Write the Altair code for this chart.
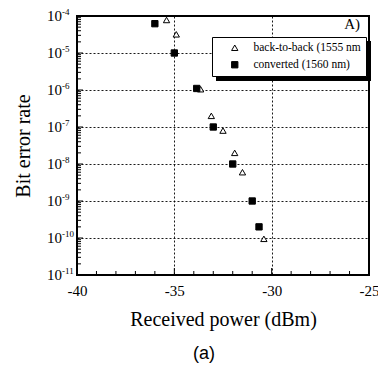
import altair as alt
import pandas as pd

# ---- data ----
series_names = ["back-to-back (1555 nm", "converted (1560 nm)"]
b2b_power = [-35.4, -34.9, -33.65, -33.1, -32.5, -31.9, -31.5, -30.4]
b2b_ber = [7.8e-5, 3.2e-5, 1.05e-6, 2.0e-7, 8.0e-8, 2.0e-8, 6.0e-9, 9.5e-11]
conv_power = [-36.0, -35.0, -33.85, -33.0, -32.0, -31.0, -30.65]
conv_ber = [6.2e-5, 1.0e-5, 1.1e-6, 1.0e-7, 1.0e-8, 1.0e-9, 2.0e-10]

x_tick_values = [-40, -35, -30, -25]
x_minor_ticks = [-39, -38, -37, -36, -34, -33, -32, -31, -29, -28, -27, -26]
y_exponents = [-11, -10, -9, -8, -7, -6, -5, -4]
y_exponent_labels = ["-11", "-10", "-9", "-8", "-7", "-6", "-5", "-4"]
x_range = [-40, -25]
y_range = [1e-11, 1e-4]

SERIF = "Liberation Serif"
W = 292
H = 259

df = pd.DataFrame(
    {
        "power": b2b_power + conv_power,
        "ber": b2b_ber + conv_ber,
        "series": [series_names[0]] * len(b2b_power) + [series_names[1]] * len(conv_power),
    }
)
decades = [10.0 ** e for e in y_exponents]
df_dec = pd.DataFrame({"v": decades, "exp": y_exponent_labels})
df_yminor = pd.DataFrame({"v": [k * 10.0 ** e for e in y_exponents[:-1] for k in range(2, 10)]})
df_xminor = pd.DataFrame({"t": x_minor_ticks})
df_xmajor = pd.DataFrame({"t": [-35, -30]})
df_one = pd.DataFrame({"k": [0]})
df_box = pd.DataFrame({"x0": [x_range[0]], "x1": [x_range[1]], "y0": [y_range[0]], "y1": [y_range[1]]})

xscale = alt.Scale(domain=x_range, nice=False, zero=False)
yscale = alt.Scale(type="log", domain=y_range, nice=False)

grid_style = dict(grid=True, gridColor="black", gridDash=[2, 2], gridWidth=1, gridOpacity=0.9)

x_axis = alt.Axis(
    values=x_tick_values,
    ticks=False,
    domain=False,
    labelFlush=False,
    labelExpr="'' + datum.value",
    labelFont=SERIF,
    labelFontSize=15,
    labelColor="black",
    labelPadding=8,
    title="Received power (dBm)",
    titleFont=SERIF,
    titleFontSize=20,
    titleFontWeight="normal",
    titleColor="black",
    titlePadding=11,
    **grid_style,
)
y_axis = alt.Axis(
    values=decades,
    ticks=False,
    domain=False,
    labels=False,
    title="Bit error rate",
    titleFont=SERIF,
    titleFontSize=20,
    titleFontWeight="normal",
    titleColor="black",
    titlePadding=44,
    **grid_style,
)

legend = alt.Legend(
    orient="none",
    legendX=135,
    legendY=21,
    title=None,
    fillColor="white",
    strokeColor="black",
    padding=5,
    symbolOffset=12,
    labelOffset=13,
    labelFont=SERIF,
    labelFontSize=11.5,
    labelColor="black",
    rowPadding=4,
    symbolStrokeWidth=1,
    symbolSize=40,
    symbolOpacity=1,
)

points = alt.Chart(df).mark_point(filled=True, strokeWidth=1, size=40, opacity=1).encode(
    x=alt.X("power:Q", scale=xscale, axis=x_axis),
    y=alt.Y("ber:Q", scale=yscale, axis=y_axis),
    shape=alt.Shape(
        "series:N", scale=alt.Scale(domain=series_names, range=["triangle-up", "square"]), legend=legend
    ),
    fill=alt.Fill("series:N", scale=alt.Scale(domain=series_names, range=["white", "black"]), legend=legend),
    stroke=alt.Stroke("series:N", scale=alt.Scale(domain=series_names, range=["black", "black"]), legend=legend),
)

# plot frame as an unfilled rectangle spanning the whole data range
frame = alt.Chart(df_box).mark_rect(
    fill="white", fillOpacity=0, stroke="black", strokeWidth=2, strokeOpacity=1
).encode(
    x=alt.X("x0:Q", scale=xscale, axis=x_axis),
    x2="x1:Q",
    y=alt.Y("y0:Q", scale=yscale, axis=y_axis),
    y2="y1:Q",
)

# drop shadow of the legend box (right and bottom)
shadow = alt.Chart(df_one).mark_rect(fill="black", opacity=1).encode(
    x=alt.value(139), x2=alt.value(294), y=alt.value(25), y2=alt.value(65)
)

xminor = alt.Chart(df_xminor).mark_rule(color="black", strokeWidth=1).encode(
    x=alt.X("t:Q", scale=xscale, axis=x_axis), y=alt.value(H), y2=alt.value(H - 4)
)
xmajor = alt.Chart(df_xmajor).mark_rule(color="black", strokeWidth=1).encode(
    x=alt.X("t:Q", scale=xscale, axis=x_axis), y=alt.value(H), y2=alt.value(H - 7)
)
yminor = alt.Chart(df_yminor).mark_rule(color="black", strokeWidth=1).encode(
    y=alt.Y("v:Q", scale=yscale, axis=y_axis), x=alt.value(0), x2=alt.value(4)
)
ymajor = alt.Chart(df_dec).mark_rule(color="black", strokeWidth=1).encode(
    y=alt.Y("v:Q", scale=yscale, axis=y_axis), x=alt.value(0), x2=alt.value(6)
)
ylab_base = alt.Chart(df_dec).mark_text(
    font=SERIF, fontSize=15, align="left", baseline="middle", color="black"
).encode(y=alt.Y("v:Q", scale=yscale, axis=y_axis), x=alt.value(-30), text=alt.value("10"))
ylab_exp = alt.Chart(df_dec).mark_text(
    font=SERIF, fontSize=9, align="left", baseline="middle", color="black", dy=-4
).encode(y=alt.Y("v:Q", scale=yscale, axis=y_axis), x=alt.value(-15), text="exp:N")

panel_label = alt.Chart(df_one).mark_text(
    font=SERIF, fontSize=15, fontWeight="normal", align="right", baseline="middle", color="black"
).encode(x=alt.value(283), y=alt.value(8), text=alt.value("A)"))

chart = (
    alt.layer(
        shadow,
        frame,
        xminor,
        xmajor,
        yminor,
        ymajor,
        ylab_base,
        ylab_exp,
        panel_label,
        points,
    )
    .properties(
        width=W,
        height=H,
        autosize=alt.AutoSizeParams(type="none"),
        padding={"left": 69, "top": 8, "right": 9, "bottom": 88},
        background="white",
        title=alt.TitleParams(
            "(a)",
            orient="bottom",
            anchor="middle",
            font="Liberation Sans",
            fontSize=18,
            fontWeight="normal",
            color="black",
            offset=16,
            dx=-19,
        ),
    )
    .configure_view(stroke="black", strokeWidth=1.5)
)

chart.save("out.html", embed_options={"renderer": "svg", "actions": False})
